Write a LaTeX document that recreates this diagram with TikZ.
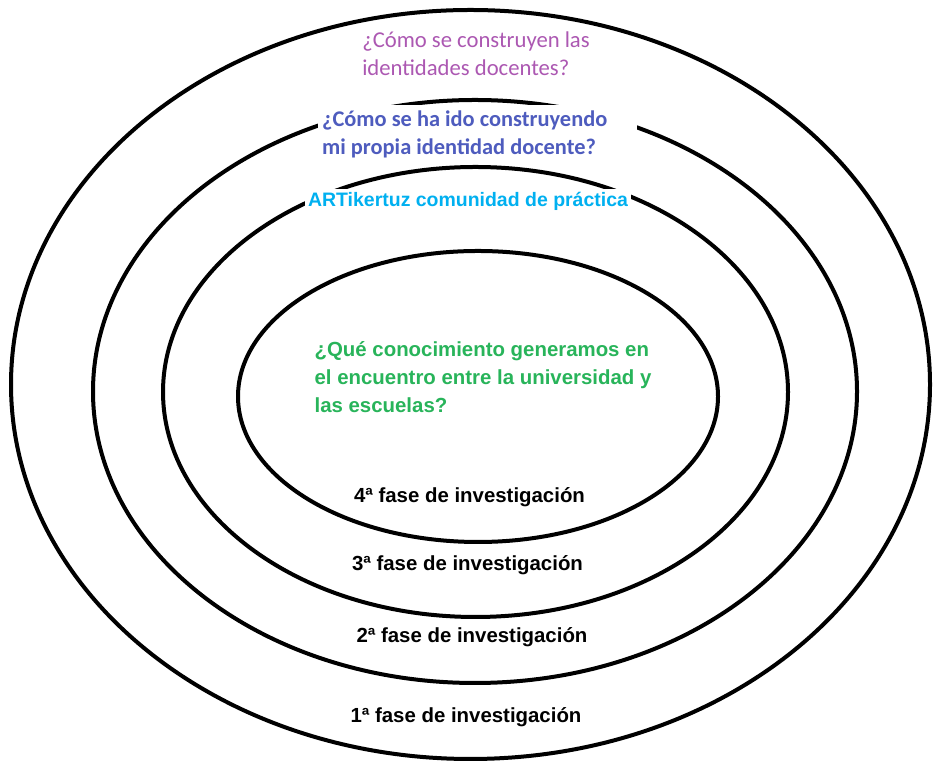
\documentclass[tikz,border=0pt]{standalone}
\usepackage{fontspec}
\setmainfont{Liberation Sans}
\newfontfamily\calibri{Carlito}
\usepackage{xcolor}

\definecolor{morado}{RGB}{172,88,178}
\definecolor{azul}{RGB}{78,92,190}
\definecolor{celeste}{RGB}{0,176,240}
\definecolor{verde}{RGB}{40,180,90}

\tikzset{
  pregunta/.style={fill=white,inner sep=1pt,align=left,font=\calibri\fontsize{17}{21}\selectfont},
  fase/.style={inner sep=1pt,align=left,font=\bfseries\fontsize{15.3}{21}\selectfont}
}

\begin{document}
\begin{tikzpicture}[line cap=round,line join=round,x=0.75pt,y=0.75pt]
      \fill[white] (0,0) rectangle (934,762);
      \useasboundingbox (0,0) rectangle (934,762);
      % anillos: exterior -> interior
      \foreach \cx/\cy/\rx/\ry in {470.5/377.5/459.5/374.5,475/370.5/382/291.5,475.5/370/312.5/225,478/365.5/240/145.5}
      \draw[line width=3pt] (\cx,\cy) ellipse [x radius=\rx, y radius=\ry];
      % preguntas
      \node[pregunta,text=morado] (identidades) at (476,708) {¿Cómo se construyen las\\identidades docentes?};
      \node[pregunta,font=\calibri\bfseries\fontsize{16.8}{21}\selectfont,text=azul,inner xsep=3pt,inner ysep=4pt,align=flush left,text width=233pt] (propia) at (477.5,628) {¿Cómo se ha ido construyendo\\mi propia identidad docente?};
      \node[fase,fill=white,inner sep=2.25pt,font=\bfseries\fontsize{14.6}{18}\selectfont,text=celeste] (comunidad) at (468,561) {ARTikertuz comunidad de práctica};
      \node[fase,text=verde] (conocimiento) at (483,385) {¿Qué conocimiento generamos en\\el encuentro entre la universidad y\\las escuelas?};
      % fases
      \node[fase] (fase4) at (469.5,265) {4ª fase de investigación};
      \node[fase] (fase3) at (467.5,197) {3ª fase de investigación};
      \node[fase] (fase2) at (472,125) {2ª fase de investigación};
      \node[fase] (fase1) at (466,45) {1ª fase de investigación};
\end{tikzpicture}
\end{document}
